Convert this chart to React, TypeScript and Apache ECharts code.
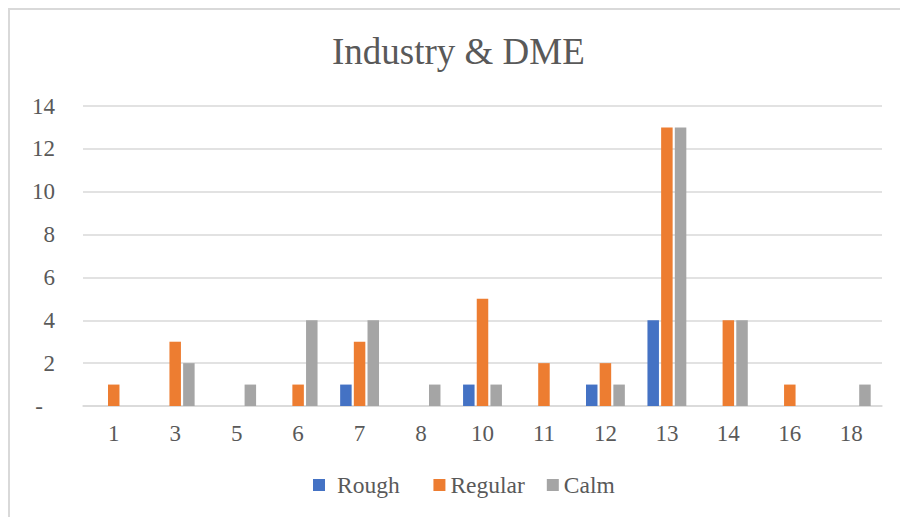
import React, { useEffect, useRef } from "react";
import * as echarts from "echarts";

// Category labels along the x axis
const categories = ["1", "3", "5", "6", "7", "8", "10", "11", "12", "13", "14", "16", "18"];

// Counts per category for each series
const rough = [0, 0, 0, 0, 1, 0, 1, 0, 1, 4, 0, 0, 0];
const regular = [1, 3, 0, 1, 3, 0, 5, 2, 2, 13, 4, 1, 0];
const calm = [0, 2, 1, 4, 4, 1, 1, 0, 1, 13, 4, 0, 1];

const seriesNames = ["Rough", "Regular", "Calm"];
const seriesColors = ["#4472C4", "#ED7D31", "#A5A5A5"];

const FONT = "Liberation Serif, serif";
const TEXT = "#595959";
const GRID = "#D9D9D9";

export default function App() {
  const ref = useRef<HTMLDivElement>(null);

  useEffect(() => {
    if (!ref.current) return;
    const chart = echarts.init(ref.current, null, { renderer: "svg" });
    const values = [rough, regular, calm];

    chart.setOption({
      animation: false,
      backgroundColor: "#ffffff",
      textStyle: { fontFamily: FONT },
      title: {
        text: "Industry & DME",
        left: 332,
        top: 33,
        padding: 0,
        textStyle: { fontFamily: FONT, fontSize: 37, fontWeight: "normal", color: TEXT },
      },
      graphic: [
        {
          type: "polyline",
          shape: { points: [[9, 517], [9, 9], [900, 9]] },
          style: { stroke: GRID, lineWidth: 2, fill: "none" },
          silent: true,
        },
      ],
      legend: {
        left: 313,
        top: 473,
        padding: 0,
        icon: "rect",
        itemWidth: 12,
        itemHeight: 12,
        itemGap: 22,
        // extra room after the first entry
        formatter: (name: string) => (name === "Rough" ? name + "  " : name),
        textStyle: { fontFamily: FONT, fontSize: 23.5, color: TEXT },
        data: [
          { name: "Rough", textStyle: { fontFamily: FONT, fontSize: 23.5, color: TEXT, padding: [0, 0, 0, 7] } },
          { name: "Regular" },
          { name: "Calm" },
        ],
      },
      grid: { left: 83, right: 18, top: 106, bottom: 111 },
      xAxis: {
        type: "category",
        data: categories,
        axisLine: { lineStyle: { color: GRID, width: 1.5 } },
        axisTick: { show: false },
        axisLabel: { fontFamily: FONT, fontSize: 23, color: TEXT, margin: 16 },
      },
      yAxis: {
        type: "value",
        min: 0,
        max: 14,
        interval: 2,
        axisLine: { show: false },
        axisTick: { show: false },
        splitLine: { lineStyle: { color: GRID, width: 1.5 } },
        axisLabel: {
          fontFamily: FONT,
          fontSize: 23,
          color: TEXT,
          margin: 28,
          formatter: (v: number) => (v === 0 ? "{z|-}" : String(v)),
          rich: { z: { fontFamily: FONT, fontSize: 23, color: TEXT, padding: [0, 12, 0, 0] } },
        },
      },
      series: seriesNames.map((name, i) => ({
        name,
        type: "bar",
        data: values[i],
        barWidth: 11.5,
        barGap: "19%",
        itemStyle: { color: seriesColors[i] },
      })),
    });

    return () => chart.dispose();
  }, []);

  return (
    <div
      ref={ref}
      style={{ position: "fixed", left: 0, top: 0, width: 900, height: 517 }}
    />
  );
}
